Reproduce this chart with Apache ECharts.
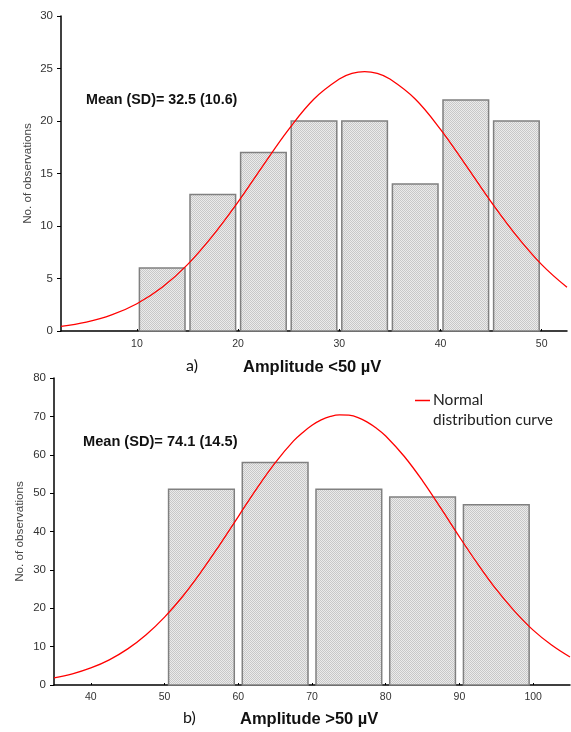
<!DOCTYPE html>
<html>
<head>
<meta charset="utf-8">
<style>
  html, body { margin: 0; padding: 0; background: #fff; }
  #chart { width: 571px; height: 732px; }
</style>
<script src="https://cdn.jsdelivr.net/npm/echarts@6.0.0/dist/echarts.min.js"></script>
</head>
<body>
<div id="chart"></div>
<script>
// Panel a) amplitude < 50 µV
const edgesA = [10, 15, 20, 25, 30, 35, 40, 45, 50];
const countsA = [6, 13, 17, 20, 20, 14, 22, 20];
const curveXA = [2.5, 5, 7.5, 10, 12.5, 15, 17.5, 20, 22.5, 25, 27.5, 30, 31.25, 32.5, 33.75, 35, 37.5, 40, 42.5, 45, 47.5, 50, 52.5];
const curveYA = [0.45, 0.85, 1.53, 2.6, 4.16, 6.32, 9.08, 12.3, 15.8, 19.2, 22.1, 24.0, 24.53, 24.7, 24.53, 24.0, 22.1, 19.2, 15.8, 12.3, 9.08, 6.32, 4.16];
const xTicksA = [10, 20, 30, 40, 50];
const statA = 'Mean (SD)= 32.5 (10.6)';
const panelA = 'a)';
const axisTitleA = 'Amplitude <50 µV';

// Panel b) amplitude > 50 µV
const edgesB = [50, 60, 70, 80, 90, 100];
const countsB = [51, 58, 51, 49, 47];
const curveXB = [35, 37.5, 40, 42.5, 45, 47.5, 50, 52.5, 55, 57.5, 60, 62.5, 65, 67.5, 68.75, 70, 71.25, 72.5, 73.75, 75, 76.25, 77.5, 78.75, 80, 82.5, 85, 87.5, 90, 92.5, 95, 97.5, 100, 102.5, 105];
const curveYB = [1.86, 2.91, 4.44, 6.56, 9.41, 13.1, 17.7, 23.2, 29.6, 36.6, 43.9, 51.2, 57.9, 63.6, 65.8, 67.7, 69.1, 70.0, 70.4, 70.3, 69.7, 68.5, 66.9, 64.9, 59.6, 53.2, 46.0, 38.6, 31.5, 24.9, 19.2, 14.3, 10.4, 7.28];
const xTicksB = [40, 50, 60, 70, 80, 90, 100];
const statB = 'Mean (SD)= 74.1 (14.5)';
const panelB = 'b)';
const axisTitleB = 'Amplitude >50 µV';

const yName = 'No. of observations';
const legendText = 'Normal\ndistribution curve';

// dotted grey fill for the histogram bars
const tile = document.createElement('canvas');
tile.width = 2; tile.height = 2;
const tctx = tile.getContext('2d');
tctx.fillStyle = '#ebebeb'; tctx.fillRect(0, 0, 2, 2);
tctx.fillStyle = '#c8c8c8'; tctx.fillRect(0, 0, 1, 1); tctx.fillRect(1, 1, 1, 1);
const barFill = { image: tile, repeat: 'repeat' };

function binData(edges, counts) {
  return counts.map((c, i) => [edges[i], edges[i + 1], c]);
}
function pairs(xs, ys) { return xs.map((x, i) => [x, ys[i]]); }

function barRenderer(inset) {
  return function (params, api) {
    const p0 = api.coord([api.value(0), api.value(2)]);
    const p1 = api.coord([api.value(1), 0]);
    return {
      type: 'rect',
      shape: { x: p0[0] + inset, y: p0[1], width: p1[0] - p0[0] - 2 * inset, height: p1[1] - p0[1] },
      style: { fill: barFill, stroke: '#808080', lineWidth: 1.5 }
    };
  };
}

const axisFont = 'Liberation Sans, Arial, sans-serif';

function xAxisFor(gridIndex, min, max, ticks, margin) {
  return {
    type: 'value', gridIndex, min, max,
    splitLine: { show: false },
    axisLine: { show: true, onZero: false, lineStyle: { color: '#000', width: 1.5 } },
    axisTick: { show: true, inside: true, length: 2, customValues: ticks, lineStyle: { color: '#000' } },
    axisLabel: { customValues: ticks, color: '#333', fontSize: 10.5, fontFamily: axisFont, margin }
  };
}
function yAxisFor(gridIndex, max, interval, nameGap) {
  return {
    type: 'value', gridIndex, min: 0, max, interval,
    name: yName, nameLocation: 'middle', nameGap, nameRotate: 90, nameMoveOverlap: false,
    nameTextStyle: { color: '#444', fontSize: 11.7, fontFamily: axisFont },
    splitLine: { show: false },
    axisLine: { show: true, lineStyle: { color: '#000', width: 1.5 } },
    axisTick: { show: true, length: 4, lineStyle: { color: '#000' } },
    axisLabel: { color: '#333', fontSize: 11.5, fontFamily: axisFont, margin: 8 }
  };
}

const chart = echarts.init(document.getElementById('chart'), null, { renderer: 'canvas' });
chart.setOption({
  animation: false,
  backgroundColor: '#fff',
  grid: [
    { left: 61, top: 16, width: 506, height: 315 },
    { left: 54, top: 378, width: 516, height: 307 }
  ],
  xAxis: [
    xAxisFor(0, 2.5, 52.5, xTicksA, 8),
    xAxisFor(1, 35, 105, xTicksB, 7)
  ],
  yAxis: [
    yAxisFor(0, 30, 5, 27),
    yAxisFor(1, 80, 10, 28)
  ],
  series: [
    { type: 'custom', xAxisIndex: 0, yAxisIndex: 0, renderItem: barRenderer(2.5), data: binData(edgesA, countsA), z: 2 },
    { type: 'line', xAxisIndex: 0, yAxisIndex: 0, data: pairs(curveXA, curveYA), smooth: 0.4, showSymbol: false,
      lineStyle: { color: '#ff0000', width: 1.3 }, z: 3 },
    { type: 'custom', xAxisIndex: 1, yAxisIndex: 1, renderItem: barRenderer(4), data: binData(edgesB, countsB), z: 2 },
    { type: 'line', xAxisIndex: 1, yAxisIndex: 1, data: pairs(curveXB, curveYB), smooth: 0.4, showSymbol: false,
      lineStyle: { color: '#ff0000', width: 1.3 }, z: 3 }
  ],
  graphic: [
    { type: 'text', left: 86, top: 93, style: { text: statA, font: 'bold 14.3px Liberation Sans, Arial, sans-serif', fill: '#111' } },
    { type: 'text', left: 83, top: 434, style: { text: statB, font: 'bold 14.6px Liberation Sans, Arial, sans-serif', fill: '#111' } },
    { type: 'text', left: 186, top: 358, style: { text: panelA, font: '16px Lato, sans-serif', fill: '#111' } },
    { type: 'text', left: 243, top: 359, style: { text: axisTitleA, font: 'bold 16.5px Liberation Sans, Arial, sans-serif', fill: '#111' } },
    { type: 'text', left: 183, top: 710, style: { text: panelB, font: '16px Lato, sans-serif', fill: '#111' } },
    { type: 'text', left: 240, top: 711, style: { text: axisTitleB, font: 'bold 16.5px Liberation Sans, Arial, sans-serif', fill: '#111' } },
    { type: 'line', shape: { x1: 415, y1: 400.5, x2: 430, y2: 400.5 }, style: { stroke: '#ff0000', lineWidth: 1.5 } },
    { type: 'text', left: 433, top: 390, style: { text: legendText, font: '15.5px Lato, sans-serif', fill: '#222', lineHeight: 20 } }
  ]
});
</script>
</body>
</html>
